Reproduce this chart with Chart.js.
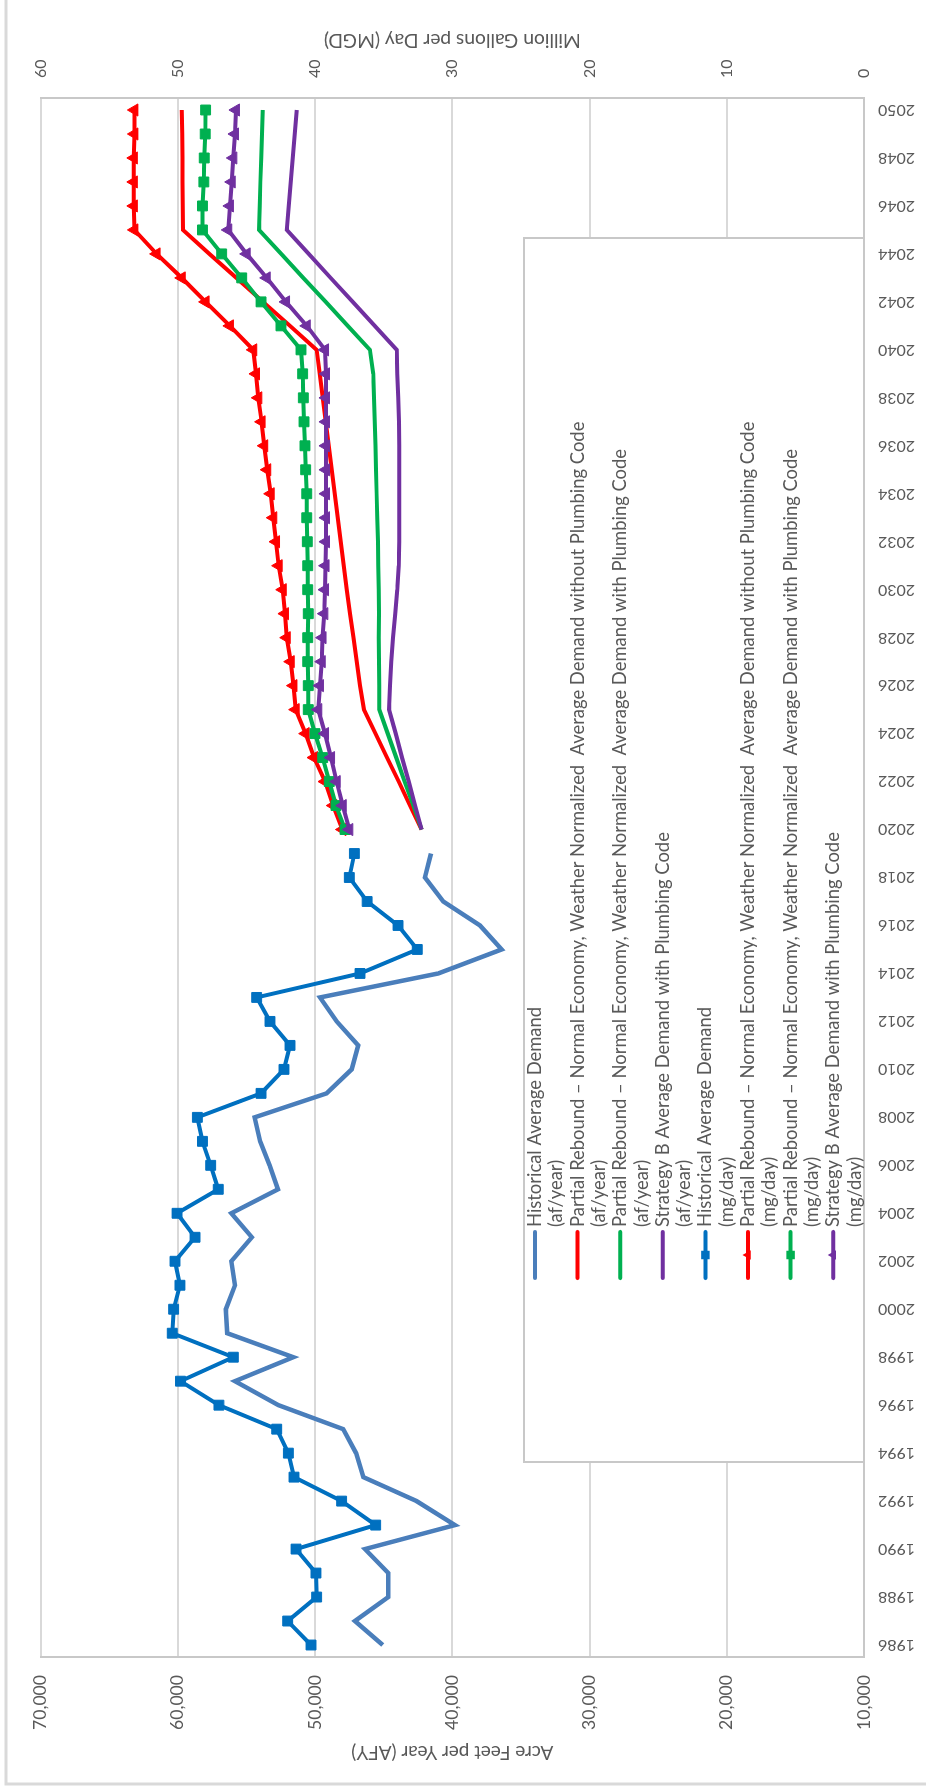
<!DOCTYPE html>
<html><head><meta charset="utf-8">
<script src="https://cdn.jsdelivr.net/npm/chart.js@4.4.1/dist/chart.umd.min.js"></script>
<style>
html,body{margin:0;padding:0;background:#fff;overflow:hidden;width:926px;height:1791px;}
#wrap{position:absolute;left:0;top:0;width:1791px;height:926px;transform-origin:0 0;transform:translate(0,1791px) rotate(-90deg);}
canvas{display:block;}
</style></head><body>
<div id="wrap"><canvas id="c" width="1791" height="926"></canvas></div>
<script>
const years = ["1986","1987","1988","1989","1990","1991","1992","1993","1994","1995","1996","1997","1998","1999","2000","2001","2002","2003","2004","2005","2006","2007","2008","2009","2010","2011","2012","2013","2014","2015","2016","2017","2018","2019","2020","2021","2022","2023","2024","2025","2026","2027","2028","2029","2030","2031","2032","2033","2034","2035","2036","2037","2038","2039","2040","2041","2042","2043","2044","2045","2046","2047","2048","2049","2050"];

// Historical 1986-2019
const histAfy = [45070,47090,44660,44660,46360,39800,42600,46480,47010,47940,52670,55830,51580,56400,56500,55830,56100,54600,56100,52700,53300,54000,54400,49150,47330,46850,48420,49640,41020,36400,37980,40650,41990,41550];
const histMgd = [40.29,41.99,39.88,39.93,41.38,35.58,38.06,41.53,41.94,42.79,47.0,49.8,45.95,50.4,50.3,49.84,50.2,48.74,50.05,47.05,47.6,48.2,48.57,43.93,42.26,41.82,43.28,44.25,36.72,32.55,33.95,36.2,37.5,37.13];

// Projections 2020-2050
const redAfy = [42230,43080,43900,44750,45590,46430,46720,46960,47190,47450,47690,47910,48130,48350,48560,48780,49000,49220,49440,49660,49880,51820,53790,55730,57700,59620,59630,59650,59660,59680,59700];
const greenAfy = [42230,42840,43470,44080,44700,45310,45310,45340,45350,45340,45360,45390,45410,45460,45510,45560,45600,45650,45700,45750,46000,47620,49220,50850,52460,54080,54030,53980,53920,53870,53810];
const purpleAfy = [42230,42710,43170,43660,44120,44610,44540,44440,44320,44150,44000,43900,43860,43860,43860,43860,43860,43880,43930,44000,44050,45650,47250,48860,50460,52060,51910,51770,51620,51480,51330];
const redMgd = [38.0,38.67,39.27,40.07,40.68,41.41,41.57,41.77,42.06,42.19,42.35,42.65,42.84,43.04,43.23,43.48,43.7,43.89,44.13,44.3,44.5,46.2,47.97,49.71,51.54,53.16,53.2,53.2,53.2,53.16,53.16];
const greenMgd = [37.81,38.47,38.96,39.44,40.0,40.49,40.49,40.53,40.53,40.49,40.53,40.53,40.56,40.6,40.6,40.68,40.73,40.8,40.85,40.9,41.02,42.48,43.93,45.34,46.8,48.2,48.2,48.1,48.07,48.0,47.97];
const purpleMgd = [37.5,37.98,38.42,38.83,39.27,39.76,39.64,39.51,39.45,39.32,39.27,39.23,39.2,39.2,39.2,39.2,39.2,39.2,39.2,39.2,39.27,40.6,42.11,43.52,44.98,46.32,46.2,46.07,45.95,45.83,45.76];

const afyTicks = [10000,20000,30000,40000,50000,60000,70000];
const mgdTicks = [0,10,20,30,40,50,60];

const seriesNames = [
  "Historical Average Demand",
  "Partial Rebound \u2013 Normal Economy, Weather Normalized  Average Demand without Plumbing Code",
  "Partial Rebound \u2013 Normal Economy, Weather Normalized  Average Demand with Plumbing Code",
  "Strategy B Average Demand with Plumbing Code",
  "Historical Average Demand",
  "Partial Rebound \u2013 Normal Economy, Weather Normalized  Average Demand without Plumbing Code",
  "Partial Rebound \u2013 Normal Economy, Weather Normalized  Average Demand with Plumbing Code",
  "Strategy B Average Demand with Plumbing Code"
];
const seriesUnits = ["(af/year)","(af/year)","(af/year)","(af/year)","(mg/day)","(mg/day)","(mg/day)","(mg/day)"];
const seriesColors = ["#4a7ebb","#ff0000","#00b050","#7030a0","#0070c0","#ff0000","#00b050","#7030a0"];
const seriesMarkers = [null,null,null,null,"rect","triangle","rect","triangle"];
const afyTitle = "Acre Feet per Year (AFY)";
const mgdTitle = "Million Gallons per Day (MGD)";

const FAMILY = "Lato, 'Open Sans', sans-serif";
const TXT = "#595959";
const mc = document.createElement('canvas').getContext('2d');
function fit(text, target){ mc.font = "100px " + FAMILY; return 100*target/mc.measureText(text).width; }
const legendSize = (fit(seriesNames[0], 219) + fit(seriesNames[1], 810)) / 2;
const afyTickSize = fit("70,000", 55);
const mgdTickSize = fit("60", 18.5);
const yearSize = fit("2050", 37);
const afyTitleSize = fit(afyTitle, 202);
const mgdTitleSize = fit(mgdTitle, 257);

const nHist = histAfy.length, nProj = redAfy.length;
const histPad = arr => arr.concat(Array(nProj).fill(null));
const projPad = arr => Array(nHist).fill(null).concat(arr);
const seriesData = [histPad(histAfy), projPad(redAfy), projPad(greenAfy), projPad(purpleAfy),
                    histPad(histMgd), projPad(redMgd), projPad(greenMgd), projPad(purpleMgd)];

const datasets = seriesData.map((d, i) => ({
  label: seriesNames[i] + " " + seriesUnits[i],
  data: d,
  yAxisID: i < 4 ? 'y' : 'y1',
  borderColor: seriesColors[i],
  backgroundColor: seriesColors[i],
  borderWidth: i === 0 ? 4.5 : 4,
  pointStyle: seriesMarkers[i] || 'circle',
  pointRadius: seriesMarkers[i] ? 7 : 0,
  pointBorderWidth: 1,
  tension: 0,
  spanGaps: false,
  order: 8 - i
}));

function drawMarker(ctx, style, x, y, r){
  ctx.beginPath();
  if (style === 'rect') {
    const s = r * Math.SQRT1_2;
    ctx.rect(x - s, y - s, 2*s, 2*s);
  } else {
    ctx.moveTo(x, y - r);
    ctx.lineTo(x + r*Math.sin(2*Math.PI/3), y - r*Math.cos(2*Math.PI/3));
    ctx.lineTo(x + r*Math.sin(4*Math.PI/3), y - r*Math.cos(4*Math.PI/3));
    ctx.closePath();
  }
  ctx.fill();
}

const decorPlugin = {
  id: 'decor',
  beforeDraw(chart){
    const ctx = chart.ctx;
    ctx.save();
    ctx.fillStyle = '#fff';
    ctx.fillRect(0,0,chart.width,chart.height);
    ctx.strokeStyle = '#d9d9d9';
    ctx.lineWidth = 3;
    ctx.strokeRect(7, 6, chart.width + 20, chart.height + 20);
    ctx.restore();
  },
  afterDraw(chart){
    const ctx = chart.ctx, a = chart.chartArea;
    ctx.save();
    // axis titles
    ctx.fillStyle = TXT;
    ctx.textAlign = 'center'; ctx.textBaseline = 'middle';
    const cy = (a.top + a.bottom)/2;
    ctx.font = afyTitleSize.toFixed(2) + "px " + FAMILY;
    ctx.translate(a.left - 95, cy); ctx.rotate(-Math.PI/2); ctx.fillText(afyTitle, 0, 0);
    ctx.setTransform(1,0,0,1,0,0);
    ctx.font = mgdTitleSize.toFixed(2) + "px " + FAMILY;
    ctx.translate(a.right + 58, cy); ctx.rotate(-Math.PI/2); ctx.fillText(mgdTitle, 0, 0);
    ctx.setTransform(1,0,0,1,0,0);
    // legend box
    const bl = a.left + 195, bt = a.top + 483.5, br = a.right - 140, bb = a.bottom;
    ctx.fillStyle = '#fff';
    ctx.fillRect(bl, bt, br - bl, bb - bt);
    ctx.strokeStyle = '#c8c8c8'; ctx.lineWidth = 2;
    ctx.strokeRect(bl, bt, br - bl, bb - bt);
    ctx.font = legendSize.toFixed(2) + "px " + FAMILY;
    ctx.textAlign = 'left'; ctx.textBaseline = 'middle';
    for (let i = 0; i < seriesNames.length; i++) {
      const y1 = bt + 11 + 42.6*i;
      const lx = bl + 184;
      ctx.strokeStyle = seriesColors[i]; ctx.lineWidth = 4; ctx.lineCap = 'round';
      ctx.beginPath(); ctx.moveTo(lx, y1); ctx.lineTo(lx + 46, y1); ctx.stroke();
      if (seriesMarkers[i]) { ctx.fillStyle = seriesColors[i]; drawMarker(ctx, seriesMarkers[i], lx + 23, y1, seriesMarkers[i]==='rect'?6:5.5); }
      ctx.fillStyle = TXT;
      ctx.fillText(seriesNames[i], bl + 235, y1);
      ctx.fillText(seriesUnits[i], bl + 235, y1 + 21.5);
    }
    ctx.restore();
  }
};

new Chart(document.getElementById('c'), {
  type: 'line',
  data: { labels: years, datasets },
  options: {
    responsive: false, animation: false, devicePixelRatio: 1,
    layout: { padding: { top: 40.5, left: 0, right: 0, bottom: 0 } },
    plugins: { legend: { display: false }, tooltip: { enabled: false } },
    scales: {
      x: {
        type: 'category', offset: true,
        grid: { display: false, drawTicks: false },
        border: { display: true, color: '#c8c8c8', width: 2 },
        ticks: { autoSkip: false, maxRotation: 90, minRotation: 90, padding: 14, color: TXT,
                 font: { family: FAMILY, size: yearSize },
                 callback: (v, i) => (i % 2 === 0 ? years[i] : '') },
        afterFit(s){ s.height = 62; }
      },
      y: {
        position: 'left', min: afyTicks[0], max: afyTicks[afyTicks.length-1],
        afterBuildTicks(s){ s.ticks = afyTicks.map(v => ({value: v})); },
        grid: { color: '#d9d9d9', lineWidth: 2, drawTicks: false },
        border: { display: true, color: '#c8c8c8', width: 2 },
        ticks: { padding: 18, color: TXT, font: { family: FAMILY, size: afyTickSize },
                 callback: v => v.toLocaleString('en-US') },
        afterFit(s){ s.width = 134; }
      },
      y1: {
        position: 'right', min: mgdTicks[0], max: mgdTicks[mgdTicks.length-1],
        afterBuildTicks(s){ s.ticks = mgdTicks.map(v => ({value: v})); },
        grid: { display: false, drawTicks: false },
        border: { display: true, color: '#c8c8c8', width: 2 },
        ticks: { padding: 20, color: TXT, font: { family: FAMILY, size: mgdTickSize },
                 callback: v => String(v) },
        afterFit(s){ s.width = 98; }
      }
    }
  },
  plugins: [decorPlugin]
});
</script>
</body></html>
